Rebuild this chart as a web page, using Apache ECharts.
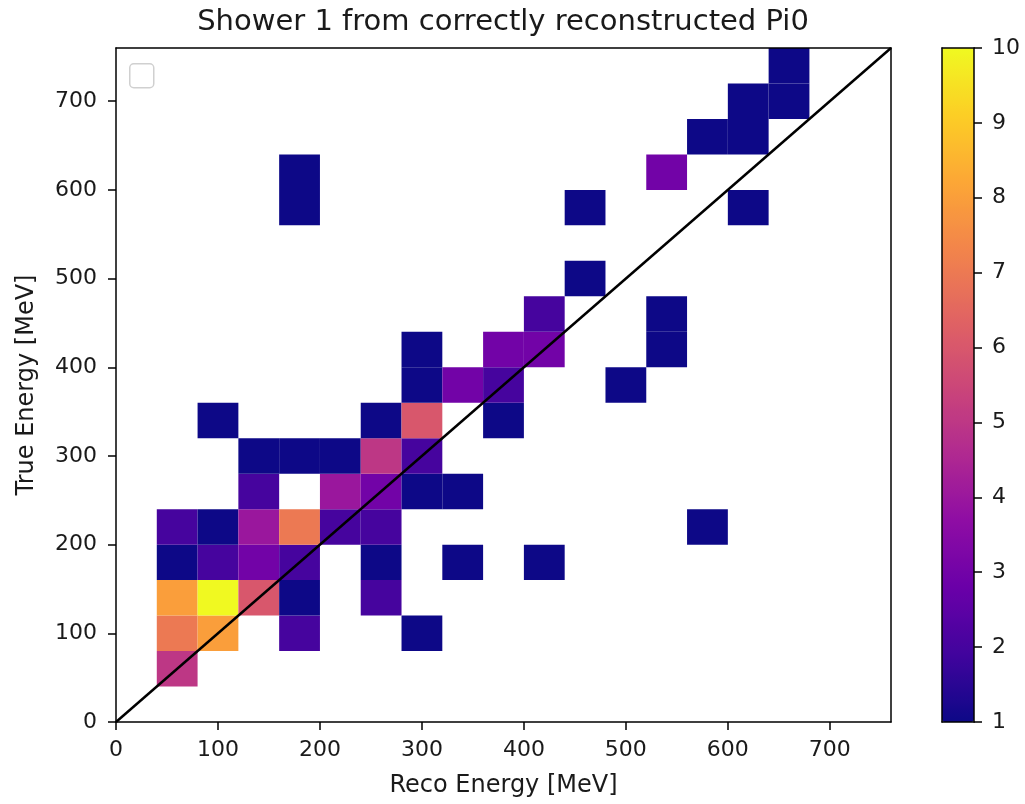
<!DOCTYPE html>
<html>
<head>
<meta charset="utf-8">
<script src="https://cdn.jsdelivr.net/npm/echarts@6/dist/echarts.min.js"></script>
<style>
  html, body { margin: 0; padding: 0; background: #fff; }
  #chart { width: 1025px; height: 804px; }
</style>
</head>
<body>
<div id="chart"></div>
<script>
// bin edges (MeV), same for reco and true energy
const binEdges = [0, 40, 80, 120, 160, 200, 240, 280, 320, 360, 400, 440, 480, 520, 560, 600, 640, 680, 720, 760]
// counts[trueBin][recoBin], trueBin 0 is the lowest row
const counts = [
  [0, 0, 0, 0, 0, 0, 0, 0, 0, 0, 0, 0, 0, 0, 0, 0, 0, 0, 0],
  [0, 5, 0, 0, 0, 0, 0, 0, 0, 0, 0, 0, 0, 0, 0, 0, 0, 0, 0],
  [0, 7, 8, 0, 2, 0, 0, 1, 0, 0, 0, 0, 0, 0, 0, 0, 0, 0, 0],
  [0, 8, 10, 6, 1, 0, 2, 0, 0, 0, 0, 0, 0, 0, 0, 0, 0, 0, 0],
  [0, 1, 2, 3, 2, 0, 1, 0, 1, 0, 1, 0, 0, 0, 0, 0, 0, 0, 0],
  [0, 2, 1, 4, 7, 2, 2, 0, 0, 0, 0, 0, 0, 0, 1, 0, 0, 0, 0],
  [0, 0, 0, 2, 0, 4, 3, 1, 1, 0, 0, 0, 0, 0, 0, 0, 0, 0, 0],
  [0, 0, 0, 1, 1, 1, 5, 2, 0, 0, 0, 0, 0, 0, 0, 0, 0, 0, 0],
  [0, 0, 1, 0, 0, 0, 1, 6, 0, 1, 0, 0, 0, 0, 0, 0, 0, 0, 0],
  [0, 0, 0, 0, 0, 0, 0, 1, 3, 2, 0, 0, 1, 0, 0, 0, 0, 0, 0],
  [0, 0, 0, 0, 0, 0, 0, 1, 0, 3, 3, 0, 0, 1, 0, 0, 0, 0, 0],
  [0, 0, 0, 0, 0, 0, 0, 0, 0, 0, 2, 0, 0, 1, 0, 0, 0, 0, 0],
  [0, 0, 0, 0, 0, 0, 0, 0, 0, 0, 0, 1, 0, 0, 0, 0, 0, 0, 0],
  [0, 0, 0, 0, 0, 0, 0, 0, 0, 0, 0, 0, 0, 0, 0, 0, 0, 0, 0],
  [0, 0, 0, 0, 1, 0, 0, 0, 0, 0, 0, 1, 0, 0, 0, 1, 0, 0, 0],
  [0, 0, 0, 0, 1, 0, 0, 0, 0, 0, 0, 0, 0, 3, 0, 0, 0, 0, 0],
  [0, 0, 0, 0, 0, 0, 0, 0, 0, 0, 0, 0, 0, 0, 1, 1, 0, 0, 0],
  [0, 0, 0, 0, 0, 0, 0, 0, 0, 0, 0, 0, 0, 0, 0, 1, 1, 0, 0],
  [0, 0, 0, 0, 0, 0, 0, 0, 0, 0, 0, 0, 0, 0, 0, 0, 1, 0, 0]
]
const axisTicks = [0, 100, 200, 300, 400, 500, 600, 700]
const colorTicks = [1, 2, 3, 4, 5, 6, 7, 8, 9, 10]
const diagonal = [0, 760]
// matplotlib plasma
const plasma = ['#0d0887', '#41049d', '#6a00a8', '#8f0da4', '#b12a90', '#cc4778',
  '#e16462', '#f2844b', '#fca636', '#fcce25', '#f0f921']

const FONT = 'DejaVu Sans'
const TXT = '#1a1a1a'

const cells = []
counts.forEach((row, j) => {
  row.forEach((c, i) => {
    if (c > 0) cells.push([binEdges[i], binEdges[j], c, binEdges[i + 1], binEdges[j + 1]])
  })
})

const chart = echarts.init(document.getElementById('chart'), null, { renderer: 'canvas' })

const lineStyle = { color: '#000', width: 1.5 }
const plain = { show: false }

chart.setOption({
  animation: false,
  title: {
    text: 'Shower 1 from correctly reconstructed Pi0',
    left: 503, top: 8, textAlign: 'center', padding: 0,
    textStyle: { fontFamily: FONT, fontSize: 29, fontWeight: 'normal', color: TXT }
  },
  grid: [
    { left: 116, top: 48, width: 775, height: 674 },
    { left: 942, top: 48, width: 32, height: 674 }
  ],
  xAxis: [
    {
      gridIndex: 0, type: 'value', min: diagonal[0], max: diagonal[1],
      name: 'Reco Energy [MeV]', nameLocation: 'middle', nameGap: 52,
      nameTextStyle: { fontFamily: FONT, fontSize: 24, color: TXT },
      axisLine: { show: true, onZero: false, lineStyle },
      axisTick: { show: true, length: 8, lineStyle, customValues: axisTicks },
      axisLabel: { margin: 17, fontFamily: FONT, fontSize: 22, color: TXT, customValues: axisTicks },
      splitLine: plain, z: 10
    },
    {
      gridIndex: 0, type: 'value', position: 'top', min: diagonal[0], max: diagonal[1],
      axisLine: { show: true, onZero: false, lineStyle },
      axisTick: plain, axisLabel: plain, splitLine: plain, z: 10
    },
    {
      gridIndex: 1, type: 'value', position: 'bottom', min: 0, max: 1,
      axisLine: { show: true, onZero: false, lineStyle },
      axisTick: plain, axisLabel: plain, splitLine: plain, z: 10
    },
    {
      gridIndex: 1, type: 'value', position: 'top', min: 0, max: 1,
      axisLine: { show: true, onZero: false, lineStyle },
      axisTick: plain, axisLabel: plain, splitLine: plain, z: 10
    }
  ],
  yAxis: [
    {
      gridIndex: 0, type: 'value', min: diagonal[0], max: diagonal[1],
      name: 'True Energy [MeV]', nameLocation: 'middle', nameGap: 77,
      nameTextStyle: { fontFamily: FONT, fontSize: 24, color: TXT },
      axisLine: { show: true, onZero: false, lineStyle },
      axisTick: { show: true, length: 8, lineStyle, customValues: axisTicks },
      axisLabel: { margin: 19, fontFamily: FONT, fontSize: 22, color: TXT, customValues: axisTicks },
      splitLine: plain, z: 10
    },
    {
      gridIndex: 0, type: 'value', position: 'right', min: diagonal[0], max: diagonal[1],
      axisLine: { show: true, onZero: false, lineStyle },
      axisTick: plain, axisLabel: plain, splitLine: plain, z: 10
    },
    {
      gridIndex: 1, type: 'value', position: 'left', min: 1, max: 10,
      axisLine: { show: true, onZero: false, lineStyle },
      axisTick: plain, axisLabel: plain, splitLine: plain, z: 10
    },
    {
      gridIndex: 1, type: 'value', position: 'right', min: 1, max: 10, interval: 1,
      axisLine: { show: true, onZero: false, lineStyle },
      axisTick: { show: true, length: 8, lineStyle, customValues: colorTicks },
      axisLabel: { margin: 18, fontFamily: FONT, fontSize: 22, color: TXT, customValues: colorTicks },
      splitLine: plain, z: 10
    }
  ],
  visualMap: {
    type: 'continuous', min: 1, max: 10, dimension: 2, seriesIndex: 0,
    left: 942, top: 48, itemWidth: 32, itemHeight: 674, padding: 0,
    calculable: false, hoverLink: false, showLabel: false, text: null,
    inRange: { color: plasma }
  },
  graphic: [
    {
      type: 'rect', left: 129, top: 63, z: 20,
      shape: { width: 24, height: 24, r: 4 },
      style: { fill: '#fff', stroke: '#d0d0d0', lineWidth: 1.5 }
    }
  ],
  series: [
    {
      type: 'custom', xAxisIndex: 0, yAxisIndex: 0,
      data: cells,
      encode: { x: [0, 3], y: [1, 4] },
      renderItem: function (params, api) {
        const p0 = api.coord([api.value(0), api.value(1)])
        const p1 = api.coord([api.value(3), api.value(4)])
        return {
          type: 'rect',
          shape: { x: p0[0], y: p1[1], width: p1[0] - p0[0], height: p0[1] - p1[1] },
          style: { fill: api.visual('color') }
        }
      },
      z: 2
    },
    {
      type: 'line', xAxisIndex: 0, yAxisIndex: 0,
      data: [[diagonal[0], diagonal[0]], [diagonal[1], diagonal[1]]],
      showSymbol: false, symbol: 'none',
      lineStyle: { color: '#000', width: 2.5 },
      z: 5
    }
  ]
})
</script>
</body>
</html>
